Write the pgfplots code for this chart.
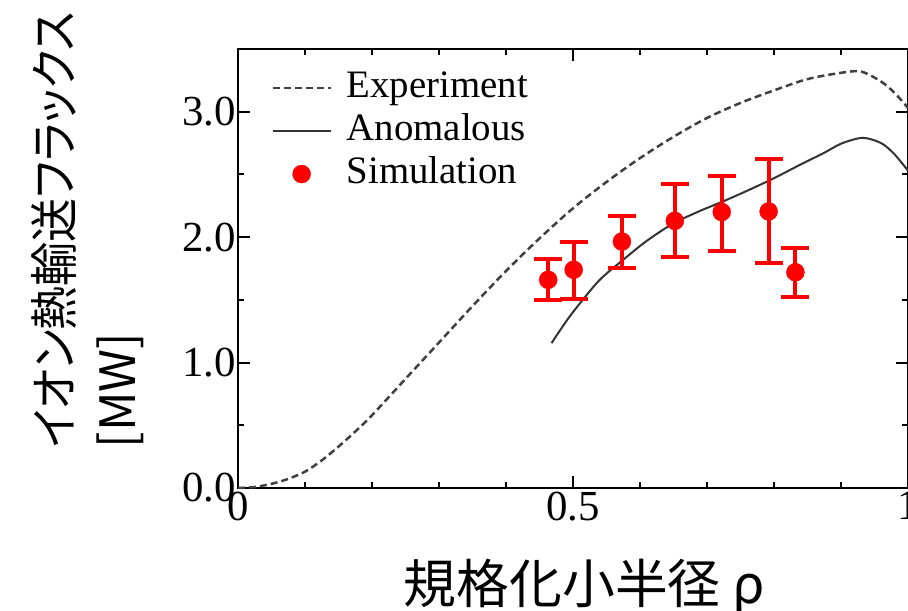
\documentclass[border=0pt]{standalone}
\usepackage{pgfplots}
\pgfplotsset{compat=1.18}
\usepackage{pgfplotstable}
\usepackage{fontspec}
\setmainfont{Liberation Serif}
\newfontfamily\cjk[RawFeature=+palt]{Noto Sans CJK JP}
\newfontfamily\cjkx{Noto Sans CJK JP}

\pgfplotsset{
  linelegend/.style={legend image code/.code={\path[draw=none,fill=none] (0bp,0bp) -- (80bp,0bp);\draw[##1] (8bp,0bp) -- (66bp,0bp);}},
  dotlegend/.style={legend image code/.code={\path[draw=none,fill=none] (0bp,0bp) -- (80bp,0bp);\fill[red] (37bp,0bp) circle (9bp);}},
}

\pgfplotstableread{
x y
0.000 0.000
0.025 0.008
0.050 0.033
0.075 0.073
0.100 0.130
0.125 0.220
0.150 0.330
0.175 0.450
0.200 0.580
0.250 0.870
0.300 1.160
0.350 1.450
0.400 1.730
0.450 1.990
0.500 2.230
0.550 2.440
0.600 2.630
0.650 2.800
0.700 2.950
0.750 3.070
0.800 3.170
0.850 3.260
0.900 3.310
0.930 3.320
0.960 3.240
0.980 3.150
1.000 3.030
}\expdata

\pgfplotstableread{
x y
0.468 1.155
0.490 1.330
0.510 1.470
0.540 1.660
0.575 1.820
0.610 1.970
0.650 2.110
0.690 2.210
0.724 2.285
0.760 2.370
0.800 2.470
0.840 2.580
0.874 2.670
0.900 2.745
0.928 2.790
0.945 2.780
0.963 2.740
0.980 2.660
1.000 2.530
}\anodata

\pgfplotstableread{
x y ep em
0.463 1.660 0.165 0.160
0.501 1.740 0.225 0.235
0.573 1.965 0.200 0.212
0.652 2.130 0.290 0.290
0.722 2.200 0.290 0.314
0.792 2.205 0.415 0.415
0.832 1.720 0.190 0.200
}\simdata

\begin{document}
\begin{tikzpicture}
\begin{axis}[
  name=ax,
  scale only axis,
  width=670bp, height=439bp,
  xmin=0, xmax=1, ymin=0, ymax=3.5,
  xtick={0,0.5,1}, xticklabels={0,0.5,1},
  minor x tick num=4,
  ytick={0,1,2,3}, minor y tick num=1,
  /pgf/number format/assume math mode=true,
  tick align=inside,
  major tick length=12bp, minor tick length=6bp,
  axis line style={line width=2bp},
  tick style={line width=2bp, black},
  minor tick style={line width=2bp, black},
  ticklabel style={font=\fontsize{43}{43}\selectfont},
  yticklabel style={inner xsep=2bp, /pgf/number format/fixed, /pgf/number format/fixed zerofill, /pgf/number format/precision=1},
  xlabel={\cjkx 規格化小半径 ρ},
  xlabel style={at={(axis description cs:0.517,-0.224)}, anchor=center, font=\fontsize{53}{53}\selectfont, inner sep=0pt},
  ylabel={\scalebox{0.9}[1]{\cjk イオン熱輸送フラックス}\\{\cjk [MW]}},
  ylabel style={at={(axis description cs:-0.225,0.588)}, anchor=center, align=left, font=\fontsize{49}{63}\selectfont, inner sep=0pt},
  legend style={draw=none, fill=none, at={(axis description cs:0.035,0.965)}, anchor=north west,
    font=\fontsize{39}{39}\selectfont,
    nodes={inner sep=2bp, text height=29bp, text depth=10bp}},
  legend cell align=left,
]
\addplot[color=black!75, line width=2.5bp, dash pattern=on 7bp off 4bp, smooth, linelegend]
  table[x=x,y=y]{\expdata};
\addlegendentry{Experiment}
\addplot[color=black!80, line width=2bp, smooth, linelegend]
  table[x=x,y=y]{\anodata};
\addlegendentry{Anomalous}
\addplot[only marks, mark=*, mark size=9bp, color=red, mark options={fill=red, draw=red}, dotlegend,
  error bars/.cd, y dir=both, y explicit,
  error bar style={line width=4bp, red},
  error mark options={rotate=90, mark size=14bp, line width=4bp, red}]
  table[x=x,y=y,y error plus=ep,y error minus=em]{\simdata};
\addlegendentry{Simulation}
\end{axis}
\pgfresetboundingbox
\path[use as bounding box] ([xshift=-238bp,yshift=-123bp]ax.south west) rectangle ([yshift=49bp]ax.north east);
\end{tikzpicture}
\end{document}
